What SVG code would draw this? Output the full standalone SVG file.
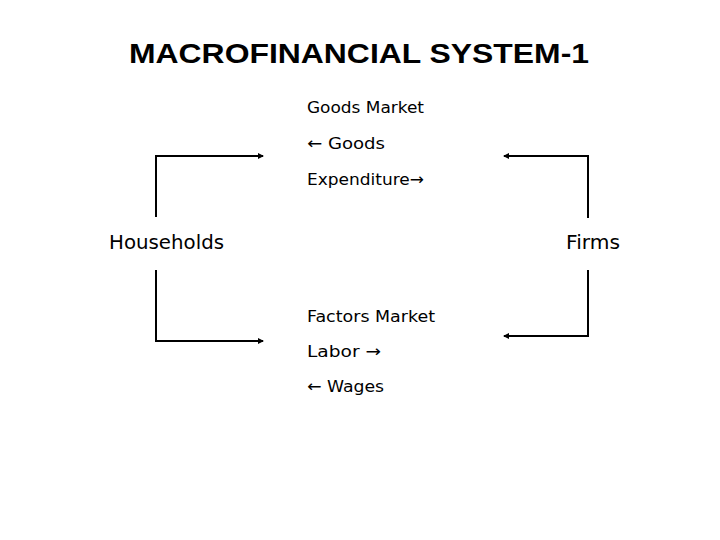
<svg xmlns="http://www.w3.org/2000/svg" width="720" height="540" viewBox="0 0 720 540">
<style>
.t{font-family:"Liberation Sans",Arial,sans-serif;font-weight:bold;fill:#000}
.l{font-family:"DejaVu Sans","Liberation Sans",sans-serif;font-size:16px;fill:#000}
.n{font-family:"DejaVu Sans","Liberation Sans",sans-serif;font-size:19px;fill:#000}
.c{fill:none;stroke:#000;stroke-width:2}
</style>
<defs>
<marker id="a" markerWidth="6" markerHeight="6" refX="5" refY="3" orient="auto" markerUnits="userSpaceOnUse"><path d="M0,0 L6,3 L0,6 z" fill="#000"/></marker>
</defs>
<rect width="720" height="540" fill="#fff"/>
<text class="t" x="129" y="63" font-size="28" textLength="460" lengthAdjust="spacingAndGlyphs">MACROFINANCIAL SYSTEM-1</text>
<g id="households"><text class="n" x="109" y="249" textLength="115" lengthAdjust="spacingAndGlyphs">Households</text></g>
<g id="firms"><text class="n" x="566" y="249" textLength="54" lengthAdjust="spacingAndGlyphs">Firms</text></g>
<g id="goods-market">
<text class="l" x="307" y="113" textLength="117" lengthAdjust="spacingAndGlyphs">Goods Market</text>
<text class="l" x="307" y="149" textLength="78" lengthAdjust="spacingAndGlyphs">← Goods</text>
<text class="l" x="307" y="185" textLength="117" lengthAdjust="spacingAndGlyphs">Expenditure→</text>
</g>
<g id="factors-market">
<text class="l" x="307" y="322" textLength="128" lengthAdjust="spacingAndGlyphs">Factors Market</text>
<text class="l" x="307" y="357" textLength="74" lengthAdjust="spacingAndGlyphs">Labor →</text>
<text class="l" x="307" y="392" textLength="77" lengthAdjust="spacingAndGlyphs">← Wages</text>
</g>
<g id="connectors">
<path class="c" d="M156,217 V156 H263" marker-end="url(#a)"/>
<path class="c" d="M588,218 V156 H504" marker-end="url(#a)"/>
<path class="c" d="M156,270 V341 H263" marker-end="url(#a)"/>
<path class="c" d="M588,270 V336 H504" marker-end="url(#a)"/>
</g>
</svg>
